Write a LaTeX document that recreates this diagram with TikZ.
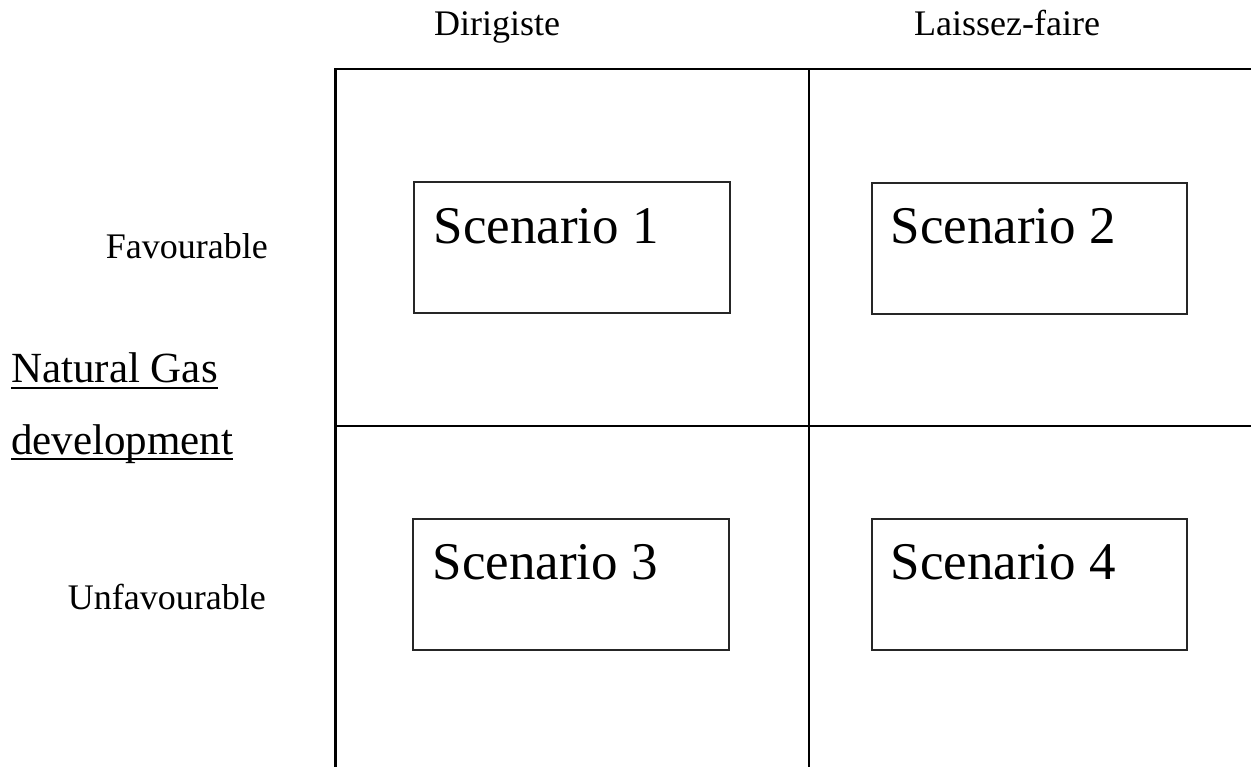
\documentclass[tikz,border=0pt]{standalone}
\usepackage{fontspec}
\setmainfont{Liberation Serif}
\begin{document}
\begin{tikzpicture}[x=1pt,y=-1pt,
  gridline/.style={line width=2.2pt,black},
  scbox/.style={draw=black!85,line width=1.2pt,minimum width=316pt,minimum height=131pt,inner sep=0pt},
  sclabel/.style={inner sep=0pt,anchor=base west,font=\fontsize{53}{64}\selectfont},
  axislabel/.style={inner sep=0pt,font=\fontsize{36}{43}\selectfont},
  titlelabel/.style={inner sep=0pt,anchor=base west,font=\fontsize{43}{52}\selectfont}]
\useasboundingbox (0,0) rectangle (1251,767);

% the two-by-two frame
\draw[gridline] (335.5,767) -- (335.5,69) -- (1251,69);
\draw[gridline] (809,69) -- (809,767);
\draw[gridline] (335.5,426) -- (1251,426);

% column headings
\node[axislabel,anchor=base west] (dir) at (434,36) {Dirigiste};
\node[axislabel,anchor=base west] (lf) at (914,36) {Laissez-faire};

% row headings
\node[axislabel,anchor=base east] (fav) at (268,259) {Favourable};
\node[axislabel,anchor=base east] (unfav) at (266,609) {Unfavourable};

% axis title, underlined
\node[titlelabel] (ng1) at (11,383) {Natural Gas};
\node[titlelabel] (ng2) at (11,454) {development};
\draw[line width=2pt] ([yshift=-5pt]ng1.base west) -- ([yshift=-5pt]ng1.base east);
\draw[line width=2pt] ([yshift=-5pt]ng2.base west) -- ([yshift=-5pt]ng2.base east);

% scenario boxes
\node[scbox] (s1) at (572,247.5) {};
\node[scbox,minimum width=315pt] (s2) at (1029.5,248.5) {};
\node[scbox] (s3) at (571,584.5) {};
\node[scbox,minimum width=315pt] (s4) at (1029.5,584.5) {};

\node[sclabel] (t1) at ([xshift=20pt,yshift=-62pt]s1.north west) {Scenario 1};
\node[sclabel] (t2) at ([xshift=19pt,yshift=-61pt]s2.north west) {Scenario 2};
\node[sclabel] (t3) at ([xshift=20pt,yshift=-61pt]s3.north west) {Scenario 3};
\node[sclabel] (t4) at ([xshift=19pt,yshift=-61pt]s4.north west) {Scenario 4};
\end{tikzpicture}
\end{document}
